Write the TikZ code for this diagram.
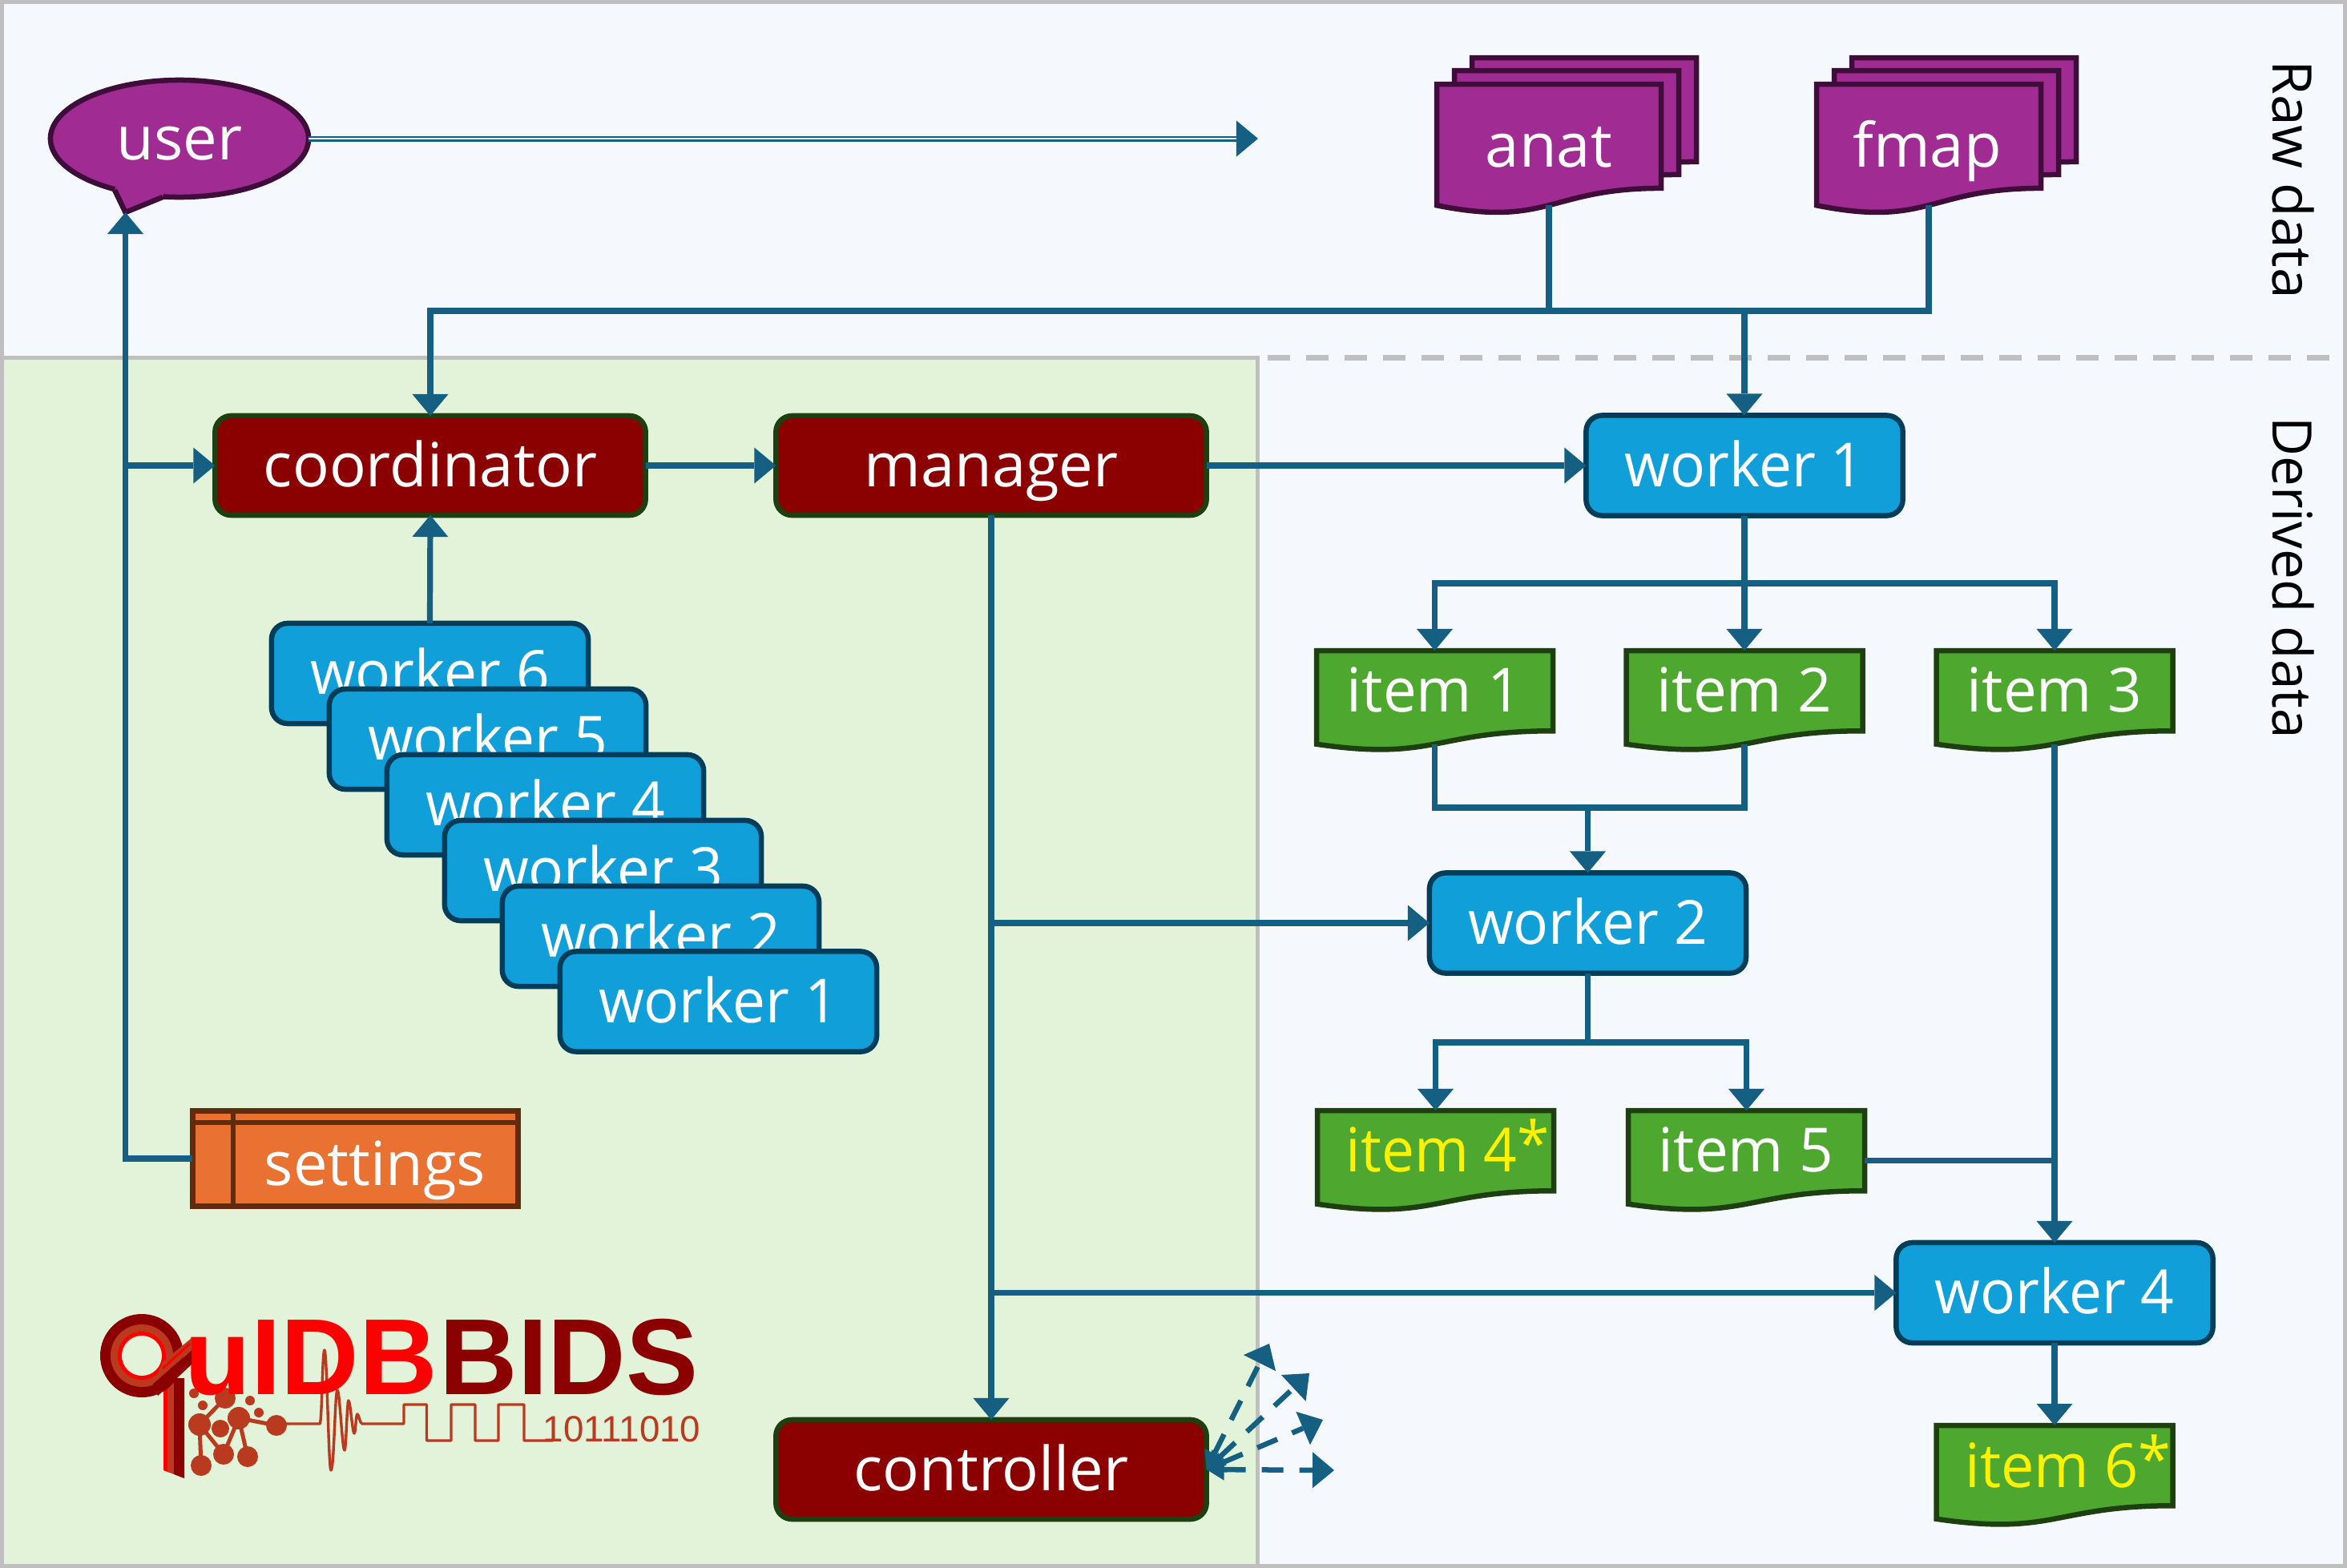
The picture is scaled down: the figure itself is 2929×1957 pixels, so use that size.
\documentclass[tikz,border=0pt]{standalone}
\usepackage{fontspec}
\usepackage{graphicx}
\usetikzlibrary{arrows.meta,shapes.geometric,calc}
\newfontfamily\labf{Open Sans}
\newfontfamily\logof{Liberation Sans}
\newcommand{\lab}{\labf\fontsize{21.62pt}{24pt}\selectfont}
\newcommand{\sx}[2]{\scalebox{#1}[1]{#2}}
\newcommand{\upstar}{\raisebox{.08cm}{*}}
\definecolor{panelbg}{HTML}{F5F9FE}
\definecolor{panelgr}{HTML}{E2F3DA}
\definecolor{rule}{HTML}{BFBFBF}
\definecolor{teal}{HTML}{156082}
\definecolor{redf}{HTML}{8B0000}
\definecolor{redd}{HTML}{1D4010}
\definecolor{bluef}{HTML}{119FD9}
\definecolor{blued}{HTML}{023E5A}
\definecolor{grnf}{HTML}{4EA72E}
\definecolor{grnd}{HTML}{1E4010}
\definecolor{purf}{HTML}{A02B93}
\definecolor{purd}{HTML}{3F0D3A}
\definecolor{orgf}{HTML}{E97132}
\definecolor{orgd}{HTML}{612B0E}
\definecolor{logob}{HTML}{B93A1E}
\tikzset{
  lw/.style={line width=.065cm},
  clw/.style={line width=.072cm},
  txt/.style={font=\lab,text=white,inner sep=0pt,outer sep=0pt,text height=.55cm,text depth=.03cm,align=center},
  redbox/.style={txt,lw,rounded corners=.2cm,draw=redd,fill=redf,minimum width=5.37cm,minimum height=1.24cm},
  bluebox/.style={txt,lw,rounded corners=.2cm,draw=blued,fill=bluef,minimum width=3.95cm,minimum height=1.25cm},
  itemsheet/.style={lw,fill=grnf,draw=grnd,miter limit=10},
  pursheet/.style={lw,fill=purf,draw=purd,miter limit=10},
  flow/.style={clw,draw=teal,-{Triangle[length=.27cm,width=.45cm,line width=0pt]}},
  plainflow/.style={clw,draw=teal},
  dflow/.style={lw,draw=teal,dash pattern=on .27cm off .2cm,{Triangle[length=.22cm,width=.27cm,line width=0pt]}-{Triangle[length=.27cm,width=.45cm,line width=0pt]}},
  dflowline/.style={line width=.024cm,draw=teal,double=panelbg,double distance=.022cm,-{Triangle[length=.27cm,width=.45cm,line width=0pt]}},
  sidelabel/.style={font=\labf\fontsize{19.35pt}{22pt}\selectfont,text=black,inner sep=0pt,rotate=-90,anchor=base},
  logobold/.style={font=\logof\bfseries\fontsize{38.4pt}{40pt}\selectfont,inner sep=0pt,anchor=base west},
  logodigits/.style={font=\logof\fontsize{13pt}{14pt}\selectfont,text=logob,inner sep=0pt,anchor=base west},
  sig/.style={draw=logob,line width=.034cm,line join=round},
  mol/.style={draw=logob,line width=.05cm}
}
% sheet: x y w H style
\newcommand{\sheet}[5]{%
  \draw[#5] (#1,#2) -- ({#1+#3},#2) -- ({#1+#3},{#2+.802*#4})
   .. controls ({#1+#3/2},{#2+.802*#4}) and ({#1+#3/2},{#2+1.1075*#4}) .. (#1,{#2+.934*#4}) -- cycle;}
% document: name x y w H style tx ty text
\newcommand{\docu}[9]{%
  \sheet{#2}{#3}{#4}{#5}{#6}
  \coordinate (#1t) at ({#2+#4/2},#3);
  \coordinate (#1b) at ({#2+#4/2},{#3+.933*#5});
  \coordinate (#1r) at ({#2+#4},{#3+.5*#5});
  \node[txt] (#1) at (#7,#8) {#9};}
\begin{document}
\begin{tikzpicture}[x=.01cm,y=-.01cm]
\useasboundingbox (0,0) rectangle (2929,1957);
% panels
\fill[panelbg] (0,0) rectangle (2929,1957);
\fill[panelgr] (0,446.5) rectangle (1569.5,1957);
\draw[rule,line width=.05cm] (0,446.5) -- (1569.5,446.5) -- (1569.5,1957);
\draw[rule,line width=.07cm,dash pattern=on .28cm off .2cm] (1582,446.5) -- (2929,446.5);
\draw[rule,line width=.05cm] (2.5,2.5) rectangle (2926.5,1954.5);
\node[sidelabel] (rawlabel) at (2836,224) {\sx{1.02}{Raw data}};
\node[sidelabel] (derivedlabel) at (2836,721) {\sx{.99}{Derived data}};
% logo
\draw[sig] (345,1777) -- (399,1777) .. controls (402,1777) and (402,1685) .. (405,1685)
  .. controls (408,1685) and (410,1835) .. (413,1835)
  .. controls (417,1835) and (418,1735) .. (421,1735)
  .. controls (424,1735) and (427,1810) .. (430,1810)
  .. controls (432,1810) and (433,1748) .. (435,1748)
  .. controls (437,1748) and (440,1789) .. (442,1789)
  .. controls (444,1789) and (444,1765) .. (446,1765)
  .. controls (448,1765) and (449,1777) .. (452,1777)
  -- (504,1777) -- (504,1753) -- (532.5,1753) -- (532.5,1798) -- (563,1798) -- (563,1753)
  -- (593,1753) -- (593,1798) -- (622,1798) -- (622,1753) -- (654,1753) -- (654,1798) -- (690,1798);
\draw[mol] (249,1778) -- (281,1745) (249,1778) -- (279,1815) (249,1778) -- (251,1829)
  (298,1770) -- (345,1779) (298,1770) -- (309,1818) (298,1770) -- (279,1815);
\fill[logob] (242,1739) circle (6) (253,1754) circle (6) (281,1745) circle (13)
  (312,1748) circle (6) (323,1763) circle (6) (249,1778) circle (14) (275,1783) circle (11)
  (298,1770) circle (14) (345,1779) circle (13) (279,1815) circle (13) (309,1818) circle (13)
  (251,1829) circle (13);
\node[logobold,text=red] (logored) at (230,1740) {uIDB};
\node[logobold,text=redf] (logodark) at (548,1740) {BIDS};
\node[logodigits] (logobits) at (677,1799) {10111010};
\fill[red] (204,1720) -- (209,1720) -- (209,1837) -- (204,1835) -- cycle;
\fill[logob] (209,1720) -- (217,1720) -- (217,1840) -- (209,1837) -- cycle;
\fill[redf] (217,1720) -- (230,1720) -- (230,1845) -- (217,1840) -- cycle;
\fill[redf] (177,1692) circle (52);
\fill[logob] (177,1692) circle (39);
\fill[red] (177,1692) circle (30);
\fill[panelgr] (177,1692) circle (25);
\fill[redf] (197,1742) -- (239,1703) -- (239,1685) -- (191,1727) -- cycle;
\fill[logob] (191,1727) -- (239,1685) -- (239,1670) -- (203,1700) -- cycle;
\draw[red,line width=.03cm] (203,1708) -- (237,1677);
% user
\node[txt,shape=ellipse,lw,draw=purd,fill=purf,minimum width=3.22cm,minimum height=1.46cm] (user) at (224,173) {user};
\coordinate (usertip) at (156.5,265);
\fill[purf] (146,228) -- (143,237) -- (usertip) -- (203,246) -- (205,238) -- cycle;
\draw[lw,purd,miter limit=10] (143,237) -- (usertip) -- (203,246);
\coordinate (userend) at (1570,173);
% raw documents
\sheet{1837}{72}{280}{162}{pursheet}
\sheet{1815}{88}{280}{162}{pursheet}
\docu{anat}{1793}{105}{280}{162}{pursheet}{1933}{182}{anat}
\sheet{2311}{72}{280}{162}{pursheet}
\sheet{2289}{88}{280}{162}{pursheet}
\docu{fmap}{2267}{105}{280}{162}{pursheet}{2405}{182}{fmap}
% boxes
\node[redbox] (coordinator) at (537,581) {coordinator};
\node[redbox] (manager) at (1237,581) {manager};
\node[redbox] (controller) at (1237,1834) {controller};
\node[bluebox] (w1) at (2177,581) {\sx{.96}{worker 1}};
\node[bluebox] (w2) at (1981.5,1152) {\sx{.96}{worker 2}};
\node[bluebox] (w4) at (2564,1613.5) {\sx{.96}{worker 4}};
\node[bluebox] (s6) at (536.5,840.5) {\sx{.96}{worker 6}};
\node[bluebox] (s5) at (608.5,922.5) {\sx{.96}{worker 5}};
\node[bluebox] (s4) at (680.5,1004.5) {\sx{.96}{worker 4}};
\node[bluebox] (s3) at (752.5,1086.5) {\sx{.96}{worker 3}};
\node[bluebox] (s2) at (824.5,1168.5) {\sx{.96}{worker 2}};
\node[bluebox] (s1) at (896.5,1250) {\sx{.96}{worker 1}};
% items
\docu{item1}{1643}{812}{295}{125}{itemsheet}{1790}{862}{\sx{.98}{item 1}}
\docu{item2}{2029.5}{812}{295}{125}{itemsheet}{2177}{862}{\sx{.98}{item 2}}
\docu{item3}{2416.5}{812}{295}{125}{itemsheet}{2564}{862}{\sx{.98}{item 3}}
\docu{item4}{1644}{1386}{295}{125}{itemsheet}{1807}{1436}{\textcolor{yellow}{\sx{.96}{item 4\upstar}}}
\docu{item5}{2032}{1386}{295}{125}{itemsheet}{2179}{1436}{\sx{.98}{item 5}}
\docu{item6}{2416.5}{1779}{295}{125}{itemsheet}{2581}{1830}{\textcolor{yellow}{\sx{.97}{item 6\upstar}}}
% settings
\node[inner sep=0pt,outer sep=0pt,lw,draw=orgd,fill=orgf,minimum width=4.06cm,minimum height=1.19cm] (settings) at (443.5,1446) {};
\draw[lw,orgd] (settings.north west |- 0,1401) -- (settings.north east |- 0,1401);
\draw[lw,orgd] (291,1386.5) -- (291,1505.5);
\node[txt] (settingslabel) at (468,1453) {settings};
% connectors
\coordinate (topbus) at (2177,388);
\coordinate (bus1) at (2177,728);
\coordinate (bus2) at (1981.5,1008);
\coordinate (bus3) at (1981.5,1301);
\coordinate (branch2) at (1237,1152);
\coordinate (branch4) at (1237,1613.5);
\coordinate (side) at (156.5,581);
\draw[dflowline] (user.east) -- (userend);
\draw[flow] (settings.west) -| (usertip);
\draw[flow] (side) -- (coordinator.west);
\draw[flow] (coordinator.east) -- (manager.west);
\draw[flow] (manager.east) -- (w1.west);
\draw[flow] (s6.north) -- (coordinator.south);
\draw[plainflow] (anatb) -- (anatb |- topbus);
\draw[flow] (fmapb) |- (coordinator.north |- topbus) -- (coordinator.north);
\draw[flow] (topbus) -- (w1.north);
\draw[flow] (w1.south) -- (item2t);
\draw[flow] (bus1) -| (item1t);
\draw[flow] (bus1) -| (item3t);
\draw[plainflow] (item1b) |- (bus2) -| (item2b);
\draw[flow] (bus2) -- (w2.north);
\draw[flow] (manager.south) -- (controller.north);
\draw[flow] (branch2) -- (w2.west);
\draw[flow] (branch4) -- (w4.west);
\draw[plainflow] (w2.south) -- (bus3);
\draw[flow] (bus3) -| (item4t);
\draw[flow] (bus3) -| (item5t);
\draw[flow] (item3b) -- (w4.north);
\draw[plainflow] (item5r) -- (item3b |- item5r);
\draw[flow] (w4.south) -- (item6t);
\coordinate (d1) at (1665,1835);
\coordinate (d2) at (1651,1772);
\coordinate (d3) at (1634,1714);
\coordinate (d4) at (1584,1677);
\draw[dflow] (controller.east) -- (d1);
\draw[dflow] (controller.east) -- (d2);
\draw[dflow] (controller.east) -- (d3);
\draw[dflow] (controller.east) -- (d4);
\end{tikzpicture}
\end{document}
